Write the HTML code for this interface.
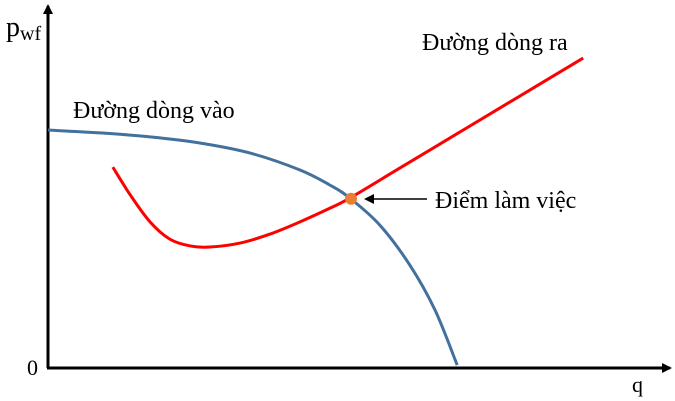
<!DOCTYPE html>
<html><head><meta charset="utf-8"><style>
body{margin:0;background:#fff}
svg{display:block}
text{font-family:"Liberation Serif",serif;fill:#000}
</style></head><body>
<svg width="675" height="401" viewBox="0 0 675 401">
<defs><marker id="ah" markerWidth="10" markerHeight="10" refX="8" refY="5" orient="auto" markerUnits="userSpaceOnUse"><path d="M0,0 L10,5 L0,10 z" fill="#000"/></marker></defs>
<line x1="48" y1="368" x2="48" y2="6" stroke="#000" stroke-width="3" marker-end="url(#ah)"/>
<line x1="47" y1="368" x2="670" y2="368" stroke="#000" stroke-width="3" marker-end="url(#ah)"/>
<text x="6" y="36" font-size="28">p<tspan font-size="20" dy="4">wf</tspan></text>
<text x="27" y="375" font-size="22">0</text>
<text x="632" y="392" font-size="22">q</text>
<text x="73" y="118" font-size="24">Đường dòng vào</text>
<text x="422" y="50" font-size="24">Đường dòng ra</text>
<text x="435" y="208" font-size="24">Điểm làm việc</text>
<line x1="427" y1="199" x2="366" y2="199" stroke="#000" stroke-width="1.5" marker-end="url(#ah)"/>
<g id="plot"></g>
</svg>
<script>
const inflowQ=[0,8.7,17,25.3,33.7,42,47,50.3,55.3,60.3,64.5,68.2];
const inflowP=[66.1,65.3,64.2,62.5,59.7,55,50.8,47.2,39.7,28.6,16.1,0.8];
const outflowQ=[10.8,13.7,17,20.3,23.7,27,32,37,42,47,50.3,58.7,67,75.3,83.7,89.2];
const outflowP=[55.8,48.1,40.6,35.8,33.9,33.6,34.7,37.2,40.6,44.4,47.2,55.6,63.9,72.2,80.6,86.1];
const opQ=[50.5];
const opP=[47];
function xs(q){return 48+q*6;}
function ys(p){return 368-p*3.6;}
function smooth(Q,P){
  const pts=Q.map((q,i)=>[xs(q),ys(P[i])]);
  let d='M'+pts[0][0]+','+pts[0][1];
  for(let i=0;i<pts.length-1;i++){
    const p0=pts[Math.max(0,i-1)],p1=pts[i],p2=pts[i+1],p3=pts[Math.min(pts.length-1,i+2)];
    const c1=[p1[0]+(p2[0]-p0[0])/6,p1[1]+(p2[1]-p0[1])/6];
    const c2=[p2[0]-(p3[0]-p1[0])/6,p2[1]-(p3[1]-p1[1])/6];
    d+=' C'+c1+' '+c2+' '+p2;
  }
  return d;
}
const g=document.getElementById('plot');
const NS='http://www.w3.org/2000/svg';
const b=document.createElementNS(NS,'path');
b.setAttribute('d',smooth(inflowQ,inflowP));
b.setAttribute('fill','none');b.setAttribute('stroke','#41719c');b.setAttribute('stroke-width','3');


g.appendChild(b);
const r=document.createElementNS(NS,'path');
r.setAttribute('d',smooth(outflowQ,outflowP));
r.setAttribute('fill','none');r.setAttribute('stroke','#ff0000');r.setAttribute('stroke-width','3');


g.appendChild(r);
const c=document.createElementNS(NS,'circle');
c.setAttribute('cx',xs(opQ[0]));c.setAttribute('cy',ys(opP[0]));c.setAttribute('r','6');c.setAttribute('fill','#ed7d31');


g.appendChild(c);
</script>
</body></html>
